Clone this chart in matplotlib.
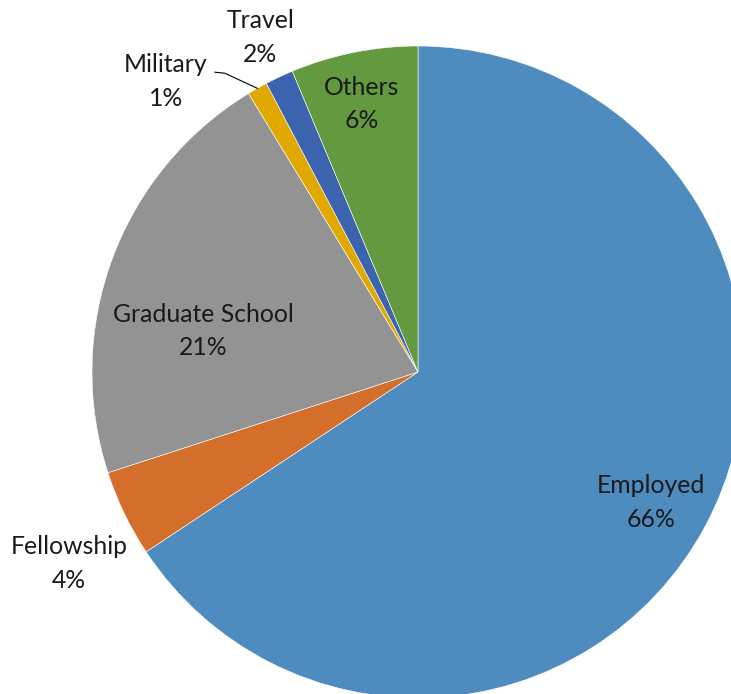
import numpy as np
import matplotlib.pyplot as plt

labels = ["Employed", "Fellowship", "Graduate School", "Military", "Travel", "Others"]
values = [65.7, 4.3, 21.3, 1.0, 1.4, 6.3]
pct_text = ["66%", "4%", "21%", "1%", "2%", "6%"]
colors = ["#4E8BBF", "#D46F2B", "#939393", "#E1A900", "#3C64AE", "#639A3F"]

# position des étiquettes : distance au centre et décalage d'angle
label_dist = [0.82, 1.22, 0.67, 1.18, 1.135, 0.84]
angle_shift = [-1.0, 3.0, 9.5, 11.4, 0.0, 0.5]

W, H = 731, 694
cx, cy, R = 418, 372, 326  # centre et rayon en pixels

fig = plt.figure(figsize=(W / 100, H / 100), dpi=100)
ax = fig.add_axes([0, 0, 1, 1])

wedges, _ = ax.pie(values, colors=colors, startangle=90, counterclock=False,
                   radius=1.0, wedgeprops=dict(edgecolor="white", linewidth=0.4))

ax.set_xlim(-cx / R, (W - cx) / R)
ax.set_ylim(-(H - cy) / R, cy / R)
ax.set_aspect("auto")
ax.axis("off")

for i, w in enumerate(wedges):
    mid = np.deg2rad((w.theta1 + w.theta2) / 2 + angle_shift[i])
    x = label_dist[i] * np.cos(mid)
    y = label_dist[i] * np.sin(mid)
    ax.text(x, y, labels[i] + "\n" + pct_text[i], ha="center", va="center",
            fontsize=17.8, family="Lato", color="#1a1a1a", linespacing=1.57)
    if labels[i] == "Military":
        rim = np.deg2rad((w.theta1 + w.theta2) / 2)
        rx, ry = np.cos(rim), np.sin(rim)
        ax.plot([x + 0.15, x + 0.18, rx], [y + 0.028, y + 0.025, ry],
                color="black", lw=0.8)

fig.savefig("out.png", dpi=100)
